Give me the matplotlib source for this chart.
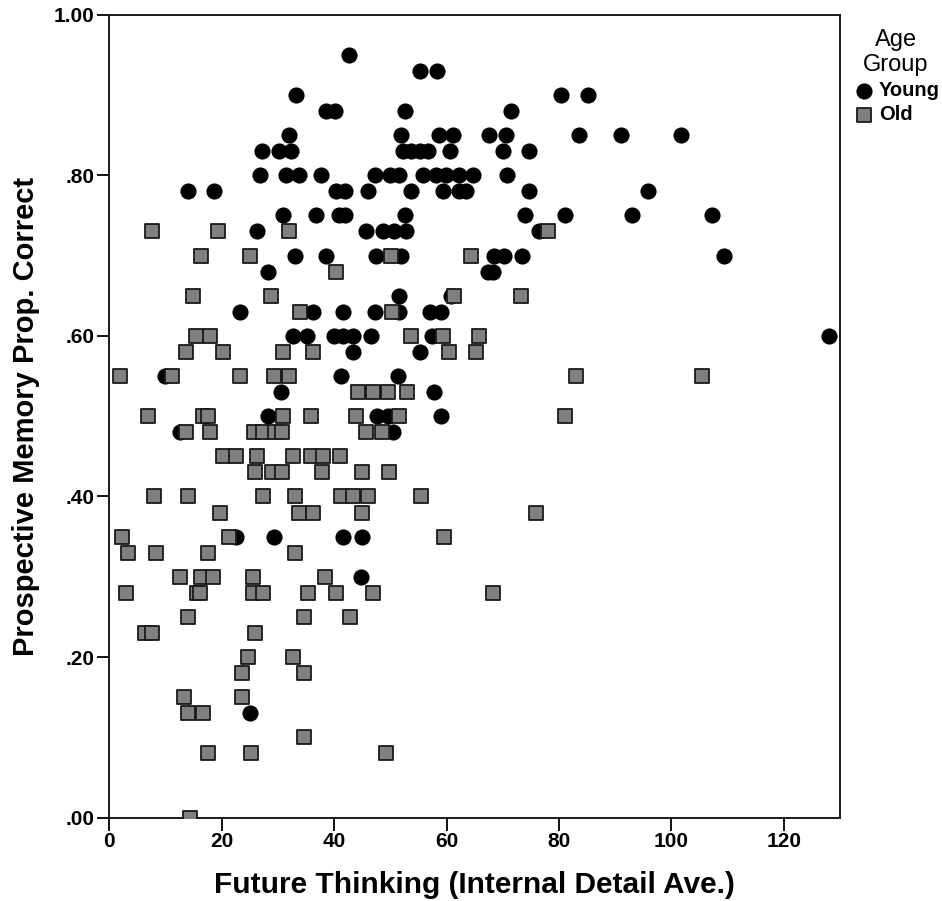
import numpy as np
import matplotlib
matplotlib.use("Agg")
import matplotlib.pyplot as plt

plt.rcParams['font.family'] = ['Liberation Sans', 'DejaVu Sans']

# Young group: proportion correct -> list of future thinking scores
young_rows = {
    0.95: [42.6],
    0.93: [55.2, 58.3],
    0.90: [33.3, 80.4, 85.2],
    0.88: [38.6, 40.1, 52.6, 71.4],
    0.85: [32.0, 51.9, 58.7, 61.1, 67.6, 70.6, 83.6, 91.0, 101.7],
    0.83: [27.2, 30.2, 32.4, 52.2, 53.7, 55.2, 56.7, 60.7, 70.0, 74.7],
    0.80: [26.9, 31.5, 33.7, 37.6, 47.2, 49.9, 51.6, 55.8, 58.2, 59.9, 62.3, 64.7, 70.7],
    0.78: [14.0, 18.6, 40.3, 41.9, 46.0, 53.6, 59.3, 62.3, 63.5, 74.6, 95.9],
    0.75: [30.9, 36.7, 40.9, 41.9, 52.6, 74.0, 81.1, 93.0, 107.3],
    0.73: [26.3, 45.7, 48.7, 50.7, 52.8, 76.5],
    0.70: [33.0, 38.6, 47.5, 51.9, 68.5, 70.3, 73.5, 109.4],
    0.68: [28.2, 67.3, 68.2],
    0.65: [51.6, 60.8],
    0.63: [23.2, 36.2, 41.6, 47.2, 51.6, 57.0, 59.0],
    0.60: [32.6, 35.2, 40.0, 41.5, 43.3, 46.6, 57.5, 128.0],
    0.58: [43.3, 55.2],
    0.55: [9.9, 41.3, 51.3],
    0.53: [30.6, 57.7],
    0.50: [28.2, 47.6, 49.6, 59.0],
    0.48: [12.5, 50.4],
    0.35: [22.6, 29.3, 41.6, 45.0],
    0.30: [44.7],
    0.13: [25.0],
}

# Old group
old_rows = {
    0.73: [7.6, 19.3, 32.0, 78.0],
    0.70: [16.3, 25.0, 50.2, 64.4],
    0.68: [40.4],
    0.65: [14.9, 28.7, 61.4, 73.3],
    0.63: [33.9, 50.3],
    0.60: [15.5, 18.0, 53.6, 59.3, 65.7],
    0.58: [13.6, 20.2, 30.9, 36.2, 60.4, 65.3],
    0.55: [1.9, 11.1, 23.2, 29.3, 32.0, 83.0, 105.4],
    0.53: [44.2, 46.9, 49.6, 53.0],
    0.50: [6.9, 16.6, 17.6, 30.9, 35.9, 43.9, 51.6, 81.1],
    0.48: [13.6, 17.9, 25.7, 27.4, 29.4, 30.8, 45.6, 48.6],
    0.45: [20.2, 22.6, 26.2, 32.7, 35.9, 38.0, 41.0],
    0.43: [26.0, 29.0, 30.7, 37.9, 45.0, 49.7],
    0.40: [7.9, 14.0, 27.4, 33.0, 41.3, 43.3, 46.0, 55.4],
    0.38: [19.7, 33.7, 36.2, 45.0, 76.0],
    0.35: [2.3, 21.3, 59.6],
    0.33: [3.4, 8.3, 17.6, 33.0],
    0.30: [12.6, 16.4, 18.4, 25.6, 38.3],
    0.28: [3.0, 15.6, 16.2, 25.6, 27.4, 35.3, 40.4, 47.0, 68.3],
    0.25: [14.0, 34.6, 42.9],
    0.23: [6.3, 7.6, 26.0],
    0.20: [24.7, 32.7],
    0.18: [23.7, 34.6],
    0.15: [13.3, 23.7],
    0.13: [14.0, 16.7],
    0.10: [34.6],
    0.08: [17.6, 25.3, 49.3],
    0.00: [14.3],
}

x_ticks = [0, 20, 40, 60, 80, 100, 120]
y_ticks = [0.0, 0.2, 0.4, 0.6, 0.8, 1.0]
y_tick_labels = [".00", ".20", ".40", ".60", ".80", "1.00"]


def flatten(rows):
    xs, ys = [], []
    for yv, xvals in rows.items():
        for xv in xvals:
            xs.append(xv)
            ys.append(yv)
    return np.array(xs), np.array(ys)


yx, yy = flatten(young_rows)
ox, oy = flatten(old_rows)

fig = plt.figure(figsize=(9.42, 9.01), dpi=100)
ax = fig.add_axes([0.116, 0.0925, 0.7757, 0.8912])

ax.scatter(yx, yy, s=135, marker='o', color='black', linewidths=0, label='Young', zorder=2)
ax.scatter(ox, oy, s=110, marker='s', facecolor='#808080', edgecolor='#1a1a1a',
           linewidths=1.3, label='Old', zorder=3)

ax.set_xlim(0, 130)
ax.set_ylim(0, 1.0)
ax.set_xticks(x_ticks)
ax.set_yticks(y_ticks)
ax.set_yticklabels(y_tick_labels)
ax.tick_params(direction='out', length=9, width=1.3, labelsize=15, colors='black', pad=1.5)
for lab in ax.get_xticklabels() + ax.get_yticklabels():
    lab.set_fontweight('bold')
for sp in ax.spines.values():
    sp.set_linewidth(1.4)
    sp.set_color('#1a1a1a')

ax.set_xlabel("Future Thinking (Internal Detail Ave.)", fontsize=21.5, fontweight='bold', labelpad=14)
ax.set_ylabel("Prospective Memory Prop. Correct", fontsize=21, fontweight='bold', labelpad=10)

leg = ax.legend(title="Age\nGroup", loc='upper left', bbox_to_anchor=(0.997, 1.0),
                frameon=False, fontsize=14.5, title_fontsize=17, handletextpad=0.15,
                borderaxespad=0.3, labelspacing=0.25, markerscale=1.0, handlelength=1.2)
for t in leg.get_texts():
    t.set_fontweight('bold')
leg.get_title().set_multialignment('center')

plt.savefig("out.png", dpi=100)
plt.close()
